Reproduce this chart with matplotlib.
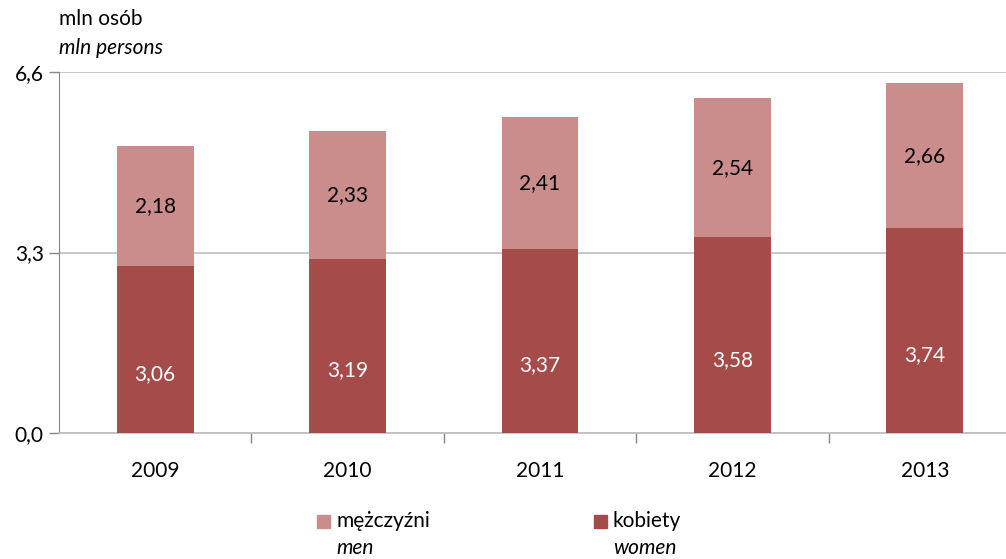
import matplotlib
matplotlib.use("Agg")
import matplotlib.pyplot as plt
from matplotlib.patches import Rectangle

years = ["2009", "2010", "2011", "2012", "2013"]
women = [3.06, 3.19, 3.37, 3.58, 3.74]
men = [2.18, 2.33, 2.41, 2.54, 2.66]
y_ticks = [0.0, 3.3, 6.6]
y_tick_labels = ["0,0", "3,3", "6,6"]

plt.rcParams["font.family"] = ["Lato", "DejaVu Sans"]

C_WOMEN = "#A54B4A"
C_MEN = "#CB8D8C"
FS = 15

fig = plt.figure(figsize=(10.06, 5.59), dpi=100)
ax = fig.add_axes([59 / 1006, 1 - 433 / 559, 962 / 1006, 361 / 559])

x = list(range(len(years)))
ax.bar(x, women, width=0.40, color=C_WOMEN, zorder=3)
ax.bar(x, men, width=0.40, bottom=women, color=C_MEN, zorder=3)

fmt = lambda v: f"{v:.2f}".replace(".", ",")
for i, (w, m) in enumerate(zip(women, men)):
    ax.text(i, w / 2 - 0.45, fmt(w), ha="center", va="center",
            color="white", fontsize=FS, zorder=4)
    ax.text(i, w + m / 2, fmt(m), ha="center", va="center",
            color="black", fontsize=FS, zorder=4)

ax.set_xlim(-0.5, len(years) - 0.5)
ax.set_ylim(0, 6.6)
ax.set_yticks(y_ticks)
ax.set_yticklabels(y_tick_labels, fontsize=FS)
ax.set_xticks(x)
ax.set_xticklabels(years, fontsize=FS)
ax.tick_params(axis="x", length=0, pad=20)
ax.set_xticks([i + 0.5 for i in x[:-1]], minor=True)
ax.tick_params(axis="x", which="minor", length=7, color="#868686", width=1)
ax.tick_params(axis="y", length=7, color="#868686", width=1, pad=4)

ax.yaxis.grid(True, color="#BFBFBF", linewidth=1.2, zorder=0)
for s in ["top", "right"]:
    ax.spines[s].set_visible(False)
ax.spines["left"].set_color("#868686")
ax.spines["bottom"].set_color("#BFBFBF")
ax.spines["bottom"].set_linewidth(1.2)

# unit caption
fig.text(59 / 1006, 1 - 19 / 559, "mln osób", fontsize=FS, va="center", ha="left")
fig.text(59 / 1006, 1 - 48 / 559, "mln persons", fontsize=FS, va="center",
         ha="left", style="italic")

# legend
def legend_item(x0, color, pl, en):
    fig.patches.append(Rectangle((x0 / 1006, 1 - 528 / 559), 13 / 1006, 13 / 559,
                                 transform=fig.transFigure, color=color, figure=fig))
    fig.text((x0 + 19) / 1006, 1 - 521 / 559, pl, fontsize=FS, va="center", ha="left")
    fig.text((x0 + 19) / 1006, 1 - 548 / 559, en, fontsize=FS, va="center",
             ha="left", style="italic")

legend_item(317, C_MEN, "mężczyźni", "men")
legend_item(594, C_WOMEN, "kobiety", "women")

fig.savefig("out.png", dpi=100)
